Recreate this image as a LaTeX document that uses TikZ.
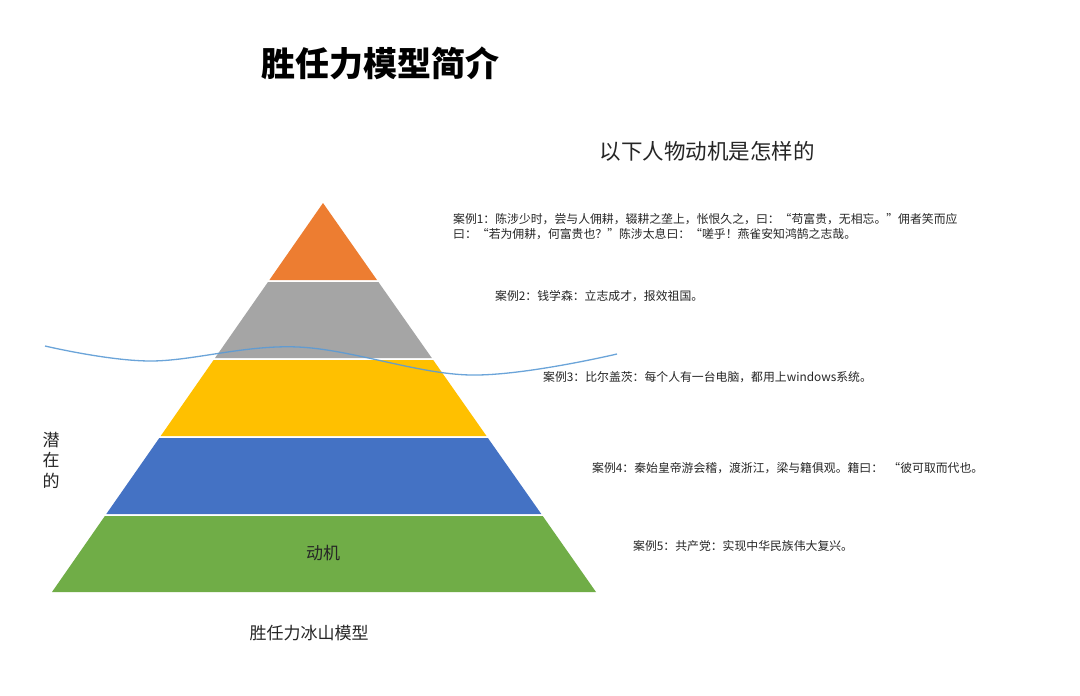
\documentclass[tikz,border=0pt]{standalone}
\usepackage{fontspec}
\newfontfamily\cjk{Noto Sans CJK SC}
\definecolor{cOrange}{HTML}{ED7D31}
\definecolor{cGray}{HTML}{A5A5A5}
\definecolor{cYellow}{HTML}{FFC000}
\definecolor{cBlue}{HTML}{4472C4}
\definecolor{cGreen}{HTML}{70AD47}
\definecolor{cWave}{HTML}{5B9BD5}
\definecolor{cText}{HTML}{262626}
\begin{document}
\begin{tikzpicture}[x=1pt,y=-1pt,
  band/.style={draw=none},
  casetext/.style={anchor=west,inner sep=0pt,font=\cjk\fontsize{11.85}{15}\selectfont,text=cText,align=left},
  label/.style={inner sep=0pt,font=\cjk\fontsize{17}{21}\selectfont,text=cText}]
\useasboundingbox (0,0) rectangle (1080,696);
\fill[white] (0,0) rectangle (1080,696);
% pyramid bands
\fill[cOrange,band] (323,203) -- (377,280) -- (269.4,280) -- cycle;
\fill[cGray,band] (268,282) -- (378.4,282) -- (431.8,358) -- (215,358) -- cycle;
\fill[cYellow,band] (213.6,360) -- (433.2,360) -- (486.5,436) -- (160.7,436) -- cycle;
\fill[cBlue,band] (159.3,438) -- (487.9,438) -- (541.3,514) -- (106.3,514) -- cycle;
\fill[cGreen,band] (104.9,516) -- (542.7,516) -- (596,592) -- (52,592) -- cycle;
% wave
\draw[cWave,line width=1.3pt,opacity=0.9] plot[smooth,tension=0.6] coordinates {(45,346) (150,361) (298,347) (470,375) (617,354)};
% title
\node[inner sep=0pt,font=\cjk\bfseries\fontsize{34}{40}\selectfont] (title) at (380,63) {胜任力模型简介};
\node[inner sep=0pt,font=\cjk\fontsize{21.5}{26}\selectfont,text=cText] (question) at (707,151) {以下人物动机是怎样的};
% cases
\node[casetext] (case1) at (453,226.5) {案例1：陈涉少时，尝与人佣耕，辍耕之垄上，怅恨久之，曰：“苟富贵，无相忘。”佣者笑而应\\曰：“若为佣耕，何富贵也？”陈涉太息曰：“嗟乎！燕雀安知鸿鹄之志哉。};
\node[casetext] (case2) at (495,296) {案例2：钱学森：立志成才，报效祖国。};
\node[casetext] (case3) at (543,377) {案例3：比尔盖茨：每个人有一台电脑，都用上windows系统。};
\node[casetext] (case4) at (592,468) {案例4：秦始皇帝游会稽，渡浙江，梁与籍俱观。籍曰：\ \ “彼可取而代也。};
\node[casetext] (case5) at (633,546) {案例5：共产党：实现中华民族伟大复兴。};
% labels
\node[label,align=center,font=\cjk\fontsize{17}{20.5}\selectfont] (latent) at (51,460) {潜\\在\\的};
\node[label] (motive) at (323,553) {动机};
\node[label] (caption) at (309,633) {胜任力冰山模型};
\end{tikzpicture}
\end{document}
